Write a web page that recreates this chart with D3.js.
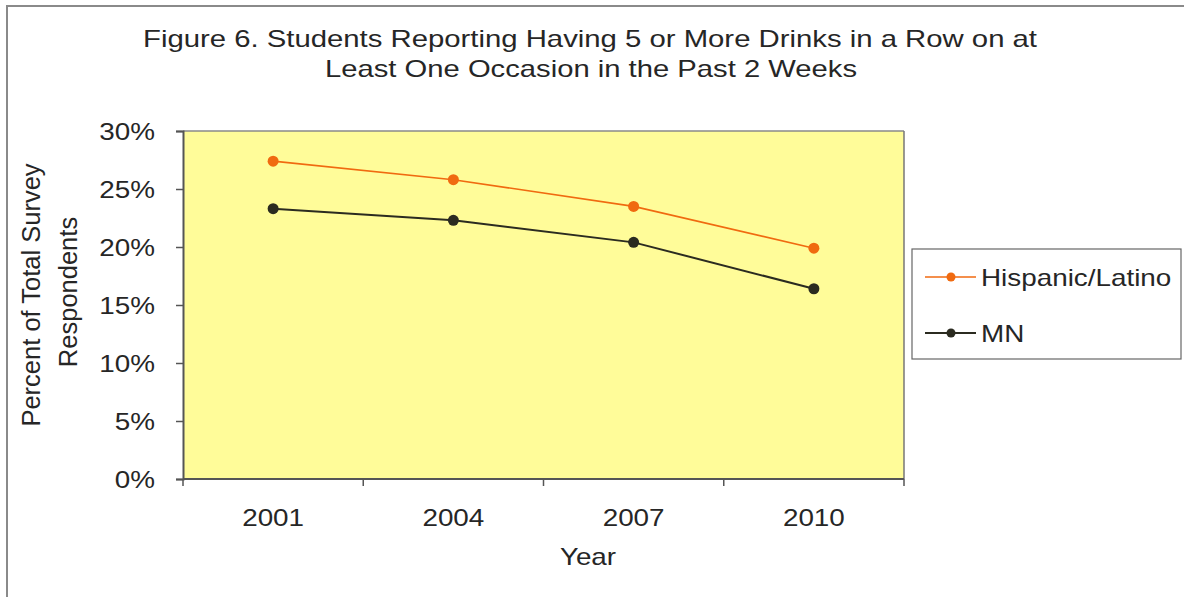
<!DOCTYPE html>
<html><head><meta charset="utf-8">
<script src="https://cdn.jsdelivr.net/npm/d3@7"></script>
<style>body{margin:0;background:#fff}svg{display:block}text{font-family:"Liberation Sans",Arial,sans-serif;fill:#262626}</style>
</head><body>
<script>
const years = ["2001","2004","2007","2010"];
const hispanic = [27.4, 25.8, 23.5, 19.9];
const mn = [23.3, 22.3, 20.4, 16.4];
const yTicks = [0,5,10,15,20,25,30];
const seriesNames = ["Hispanic/Latino","MN"];
const titleLines = ["Figure 6. Students Reporting Having 5 or More Drinks in a Row on at","Least One Occasion in the Past 2 Weeks"];

const W=1184,H=597, SX=1.16;
const svg=d3.select("body").append("svg").attr("width",W).attr("height",H);
svg.append("rect").attr("x",7).attr("y",6).attr("width",1200).attr("height",620).attr("fill","#fff").attr("stroke","#8a8a8a").attr("stroke-width",2);

const L=183,R=904,T=131,B=479;
const x=d3.scaleBand().domain(years).range([L,R]);
const y=d3.scaleLinear().domain([0,30]).range([B,T]);

function stext(g,xp,yp,str,anchor,size){
  return g.append("text").attr("transform",`translate(${xp},${yp}) scale(${SX},1)`).attr("text-anchor",anchor).attr("font-size",size||24).text(str);
}
// title
stext(svg,590,47,titleLines[0],"middle",24).attr("textLength",894/SX).attr("lengthAdjust","spacingAndGlyphs");
stext(svg,591,77,titleLines[1],"middle",24).attr("textLength",532/SX).attr("lengthAdjust","spacingAndGlyphs");

// plot area
svg.append("rect").attr("x",L).attr("y",T).attr("width",R-L).attr("height",B-T).attr("fill","#FFFC99");
svg.append("line").attr("x1",L).attr("x2",R).attr("y1",T).attr("y2",T).attr("stroke","#8a8a8a").attr("stroke-width",1.5);
svg.append("line").attr("x1",R).attr("x2",R).attr("y1",T).attr("y2",B).attr("stroke","#777").attr("stroke-width",1.5);

// y axis
const yAxis=svg.append("g").attr("transform",`translate(${L},0)`)
  .call(d3.axisLeft(y).tickValues(yTicks).tickSize(7).tickFormat(()=>""));
yAxis.select(".domain").attr("stroke","#555").attr("stroke-width",2);
yAxis.selectAll(".tick line").attr("stroke","#555").attr("stroke-width",1.5);
yTicks.forEach(v=>stext(svg,155,y(v)+8.5,v+"%","end",24));

// x axis
const xg=svg.append("g").attr("transform",`translate(0,${B})`);
xg.append("line").attr("x1",L).attr("x2",R).attr("stroke","#555").attr("stroke-width",2);
const edges=years.map(d=>x(d)).concat([R]);
xg.selectAll("line.tk").data(edges).join("line").attr("class","tk").attr("x1",d=>d).attr("x2",d=>d).attr("y1",0).attr("y2",7).attr("stroke","#555").attr("stroke-width",1.5);
years.forEach(d=>stext(svg,x(d)+x.bandwidth()/2,526,d,"middle",24));
stext(svg,588,565,"Year","middle",24);

// y title
svg.append("g").attr("transform","translate(40,295) rotate(-90)").append("text").attr("text-anchor","middle").attr("font-size",25.5).text("Percent of Total Survey");
svg.append("g").attr("transform","translate(77,292) rotate(-90)").append("text").attr("text-anchor","middle").attr("font-size",25.5).text("Respondents");

// series
const series=[{name:seriesNames[0],vals:hispanic,color:"#F06A10",w:1.6},{name:seriesNames[1],vals:mn,color:"#2B2B20",w:2}];
const line=d3.line().x((d,i)=>x(years[i])+x.bandwidth()/2).y(d=>y(d));
series.forEach(s=>{
  svg.append("path").datum(s.vals).attr("d",line).attr("fill","none").attr("stroke",s.color).attr("stroke-width",s.w);
  svg.selectAll(null).data(s.vals).join("circle").attr("cx",(d,i)=>x(years[i])+x.bandwidth()/2).attr("cy",d=>y(d)).attr("r",5.5).attr("fill",s.color);
});

// legend
svg.append("rect").attr("x",912).attr("y",249).attr("width",269).attr("height",110).attr("fill","#fff").attr("stroke","#666").attr("stroke-width",1.2);
series.forEach((s,i)=>{
  const ly=277+i*56;
  svg.append("line").attr("x1",925).attr("x2",976).attr("y1",ly).attr("y2",ly).attr("stroke",s.color).attr("stroke-width",s.w);
  svg.append("circle").attr("cx",951).attr("cy",ly).attr("r",4.5).attr("fill",s.color);
  stext(svg,981,ly+8.5,s.name,"start",24);
});
</script>
</body></html>
